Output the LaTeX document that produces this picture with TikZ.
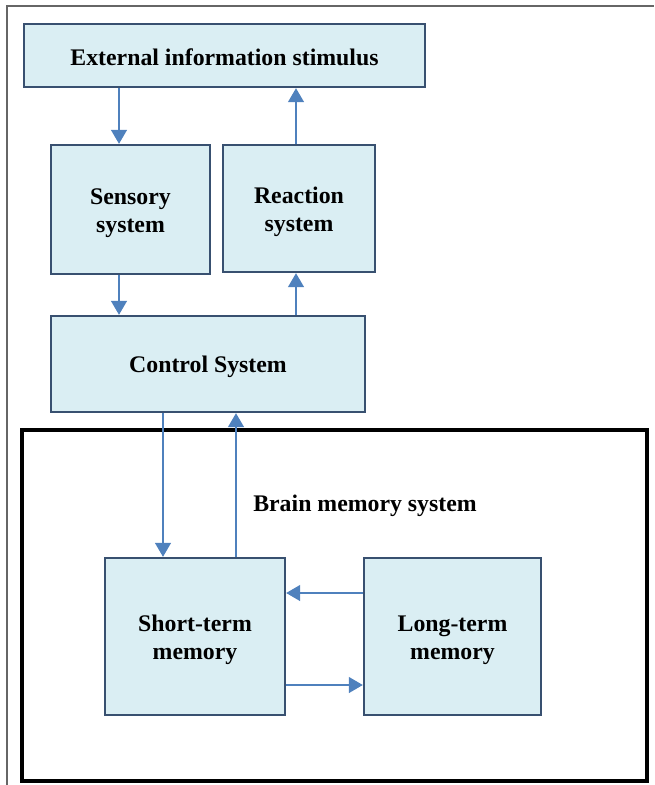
\documentclass[tikz,border=0pt]{standalone}
\usepackage{fontspec}
\setmainfont{Liberation Serif}
\usetikzlibrary{arrows.meta}
\definecolor{boxfill}{HTML}{DAEEF3}
\definecolor{boxline}{HTML}{385070}
\definecolor{arrowc}{HTML}{4F81BD}
\tikzset{
  blk/.style={draw=boxline, fill=boxfill, line width=2.4pt, inner sep=0pt},
  txt/.style={align=center, font=\bfseries\fontsize{23.8}{28}\selectfont, inner sep=0pt},
  arr/.style={draw=arrowc, line width=1.3pt, -{Triangle[length=14pt,width=16pt]}},
}
\begin{document}
\begin{tikzpicture}[x=1pt,y=-1pt]
\useasboundingbox (0,0) rectangle (654,785);
\draw[gray!80!black, line width=1.2pt] (7,785) -- (7,6) -- (654,6);
\draw[line width=4.5pt] (22,430) rectangle (647,781);
\node[blk, minimum width=401pt, minimum height=63pt] (ext) at (224.5,55.5) {};
\node[txt, yshift=-2pt] (extT) at (ext.center) {External information stimulus};
\node[blk, minimum width=159pt, minimum height=129pt] (sen) at (130.5,209.5) {};
\node[txt, yshift=-3.5pt] (senT) at (sen.center) {Sensory\\system};
\node[blk, minimum width=152pt, minimum height=127pt] (rea) at (299,208.5) {};
\node[txt, yshift=-3.5pt] (reaT) at (rea.center) {Reaction\\system};
\node[blk, minimum width=314pt, minimum height=96pt] (con) at (208,364) {};
\node[txt, yshift=-3pt] (conT) at (con.center) {Control System};
\node[txt] (brain) at (365,506) {Brain memory system};
\node[blk, minimum width=180pt, minimum height=157pt] (stm) at (195,636.5) {};
\node[txt, yshift=-3.5pt] (stmT) at (stm.center) {Short-term\\memory};
\node[blk, minimum width=177pt, minimum height=157pt] (ltm) at (452.5,636.5) {};
\node[txt, yshift=-3.5pt] (ltmT) at (ltm.center) {Long-term\\memory};
\draw[arr] (ext.south -| 119,0) -- (sen.north -| 119,0);
\draw[arr] (rea.north -| 296,0) -- (ext.south -| 296,0);
\draw[arr] (sen.south -| 119,0) -- (con.north -| 119,0);
\draw[arr] (con.north -| 296,0) -- (rea.south -| 296,0);
\draw[arr] (con.south -| 163,0) -- (stm.north -| 163,0);
\draw[arr] (stm.north -| 236,0) -- (con.south -| 236,0);
\draw[arr] (ltm.west |- 0,593) -- (stm.east |- 0,593);
\draw[arr] (stm.east |- 0,685) -- (ltm.west |- 0,685);
\end{tikzpicture}
\end{document}
